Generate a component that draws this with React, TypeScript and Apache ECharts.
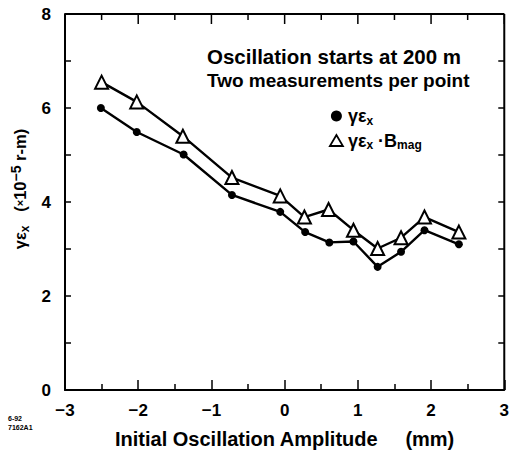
import React, { useEffect, useRef } from "react";
import * as echarts from "echarts";

const xGamma = [-2.51, -2.02, -1.38, -0.72, -0.06, 0.28, 0.61, 0.94, 1.27, 1.59, 1.91, 2.38];
const yGamma = [6.0, 5.49, 5.01, 4.15, 3.79, 3.36, 3.14, 3.16, 2.62, 2.94, 3.4, 3.1];
const xBmag = [-2.5, -2.02, -1.39, -0.72, -0.06, 0.27, 0.6, 0.94, 1.27, 1.59, 1.91, 2.38];
const yBmag = [6.55, 6.13, 5.4, 4.52, 4.13, 3.68, 3.84, 3.4, 3.01, 3.24, 3.68, 3.36];
const xRange = [-3, 3];
const yRange = [0, 8];
const xMajor = [-3, -2, -1, 0, 1, 2, 3];
const xMinor = [-2.5, -1.5, -0.5, 0.5, 1.5, 2.5];
const yMajor = [0, 2, 4, 6, 8];
const yMinor = [1, 3, 5, 7];

const FONT = "'Liberation Sans', Arial, sans-serif";

export default function App() {
  const ref = useRef<HTMLDivElement>(null);
  useEffect(() => {
    if (!ref.current) return;
    const chart = echarts.init(ref.current, null, { renderer: "svg" });
    const sub = { fontSize: 12, fontFamily: FONT, fontWeight: "bold" as const, color: "#000", padding: [9, 0, 0, 0] };
    const main = { fontSize: 18, fontFamily: FONT, fontWeight: "bold" as const, color: "#000" };
    const ymain = { ...main, fontSize: 16.5 };
    const texts: any[] = [
      {
        id: "t1",
        type: "text",
        left: 207,
        top: 46,
        style: { text: "Oscillation starts at 200 m", font: `bold 20.5px ${FONT}`, fill: "#000" },
      },
      {
        id: "t2",
        type: "text",
        left: 207,
        top: 71,
        style: { text: "Two measurements per point", font: `bold 19px ${FONT}`, fill: "#000" },
      },
      {
        id: "t3",
        type: "text",
        left: 8,
        top: 414,
        style: { text: "6-92\n7162A1", font: `bold 7px ${FONT}`, fill: "#000", lineHeight: 9 },
      },
    ];
    chart.setOption({
      animation: false,
      grid: { left: 65, right: 6, top: 14, bottom: 61 },
      xAxis: {
        type: "value",
        min: xRange[0],
        max: xRange[1],
        interval: 1,
        axisLine: { show: true, onZero: false, lineStyle: { color: "#000", width: 2 } },
        axisTick: { show: true, inside: true, length: 10, lineStyle: { color: "#000", width: 1.5 } },
        minorTick: { show: true, splitNumber: 2, length: 6, lineStyle: { color: "#000", width: 1.5 } },
        splitLine: { show: false },
        axisLabel: {
          color: "#000",
          fontSize: 17,
          fontWeight: "bold",
          fontFamily: FONT,
          margin: 12,
          formatter: (v: number) => (v < 0 ? "\u2212" + Math.abs(v) : String(v)),
        },
        name: "Initial Oscillation Amplitude     (mm)",
        nameLocation: "middle",
        nameGap: 39,
        nameTextStyle: { color: "#000", fontSize: 20, fontWeight: "bold", fontFamily: FONT },
      },
      yAxis: {
        type: "value",
        min: yRange[0],
        max: yRange[1],
        interval: 2,
        axisLine: { show: true, onZero: false, lineStyle: { color: "#000", width: 2 } },
        axisTick: { show: true, inside: true, length: 6, lineStyle: { color: "#000", width: 1.5 } },
        minorTick: { show: true, splitNumber: 2, length: 6, lineStyle: { color: "#000", width: 1.5 } },
        splitLine: { show: false },
        axisLabel: { color: "#000", fontSize: 17, fontWeight: "bold", fontFamily: FONT, margin: 14 },
        name: "{g| }{m|γε}{s|x}{m|   (}{t|×}{m|10}{sup|−5}{m| r-m)}",
        nameLocation: "middle",
        nameRotate: 90,
        nameGap: 34,
        nameTextStyle: {
          rich: {
            g: { width: 26, fontSize: 16 },
            m: ymain,
            s: sub,
            t: { fontSize: 11, fontFamily: FONT, fontWeight: "bold", color: "#000" },
            sup: { fontSize: 14, fontFamily: FONT, fontWeight: "bold", color: "#000", padding: [0, 0, 8, 0] },
          },
        },
      },
      legend: {
        orient: "vertical",
        left: 324,
        top: 102,
        itemGap: 5,
        itemWidth: 13,
        itemHeight: 11,
        data: [
          { name: "g", icon: "circle", itemStyle: { color: "#000" } },
          { name: "b", icon: "triangle", itemStyle: { color: "#fff", borderColor: "#000", borderWidth: 1.8 } },
        ],
        formatter: (n: string) => (n === "g" ? "{m|γε}{s|x}" : "{m|γε}{s|x}{m| ·B}{s|mag}"),
        textStyle: { rich: { m: main, s: sub } },
      },
      graphic: texts,
      series: [
        {
          name: "g",
          type: "line",
          data: xGamma.map((x, i) => [x, yGamma[i]]),
          symbol: "circle",
          symbolSize: 8,
          lineStyle: { color: "#000", width: 2.4 },
          itemStyle: { color: "#000" },
          z: 3,
        },
        {
          name: "b",
          type: "line",
          data: xBmag.map((x, i) => [x, yBmag[i]]),
          symbol: "triangle",
          symbolSize: 13,
          lineStyle: { color: "#000", width: 2.4 },
          itemStyle: { color: "#fff", borderColor: "#000", borderWidth: 2 },
          z: 3,
        },
      ],
    });

    // Frame on the top and right edges, positioned through the chart's own scales.
    const px = (x: number, y: number) => chart.convertToPixel({ gridIndex: 0 }, [x, y]) as number[];
    const tl = px(xRange[0], yRange[1]);
    const br = px(xRange[1], yRange[0]);
    const frame: any[] = [];
    const stroke = { stroke: "#000", lineWidth: 2 };
    const tickStroke = { stroke: "#000", lineWidth: 1.5 };
    if (tl && br && isFinite(tl[0]) && isFinite(br[0])) {
      frame.push({
        id: "frameTop",
        type: "line",
        z: 100,
        silent: true,
        shape: { x1: tl[0], y1: tl[1], x2: br[0], y2: tl[1] },
        style: stroke,
      });
      frame.push({
        id: "frameRight",
        type: "line",
        z: 100,
        silent: true,
        shape: { x1: br[0], y1: tl[1], x2: br[0], y2: br[1] },
        style: stroke,
      });
      xMajor.forEach((v, i) => {
        const p = px(v, yRange[1]);
        frame.push({ id: "xM" + i, type: "line", z: 100, silent: true, shape: { x1: p[0], y1: p[1], x2: p[0], y2: p[1] + 10 }, style: tickStroke });
      });
      xMinor.forEach((v, i) => {
        const p = px(v, yRange[1]);
        frame.push({ id: "xm" + i, type: "line", z: 100, silent: true, shape: { x1: p[0], y1: p[1], x2: p[0], y2: p[1] + 6 }, style: tickStroke });
      });
      yMajor.forEach((v, i) => {
        const p = px(xRange[1], v);
        frame.push({ id: "yM" + i, type: "line", z: 100, silent: true, shape: { x1: p[0], y1: p[1], x2: p[0] - 6, y2: p[1] }, style: tickStroke });
      });
      yMinor.forEach((v, i) => {
        const p = px(xRange[1], v);
        frame.push({ id: "ym" + i, type: "line", z: 100, silent: true, shape: { x1: p[0], y1: p[1], x2: p[0] - 6, y2: p[1] }, style: tickStroke });
      });
      chart.setOption({ graphic: [...texts, ...frame] });
    }
    return () => chart.dispose();
  }, []);
  return <div ref={ref} style={{ width: 512, height: 454, position: "absolute", left: 0, top: 0, background: "#fff" }} />;
}
